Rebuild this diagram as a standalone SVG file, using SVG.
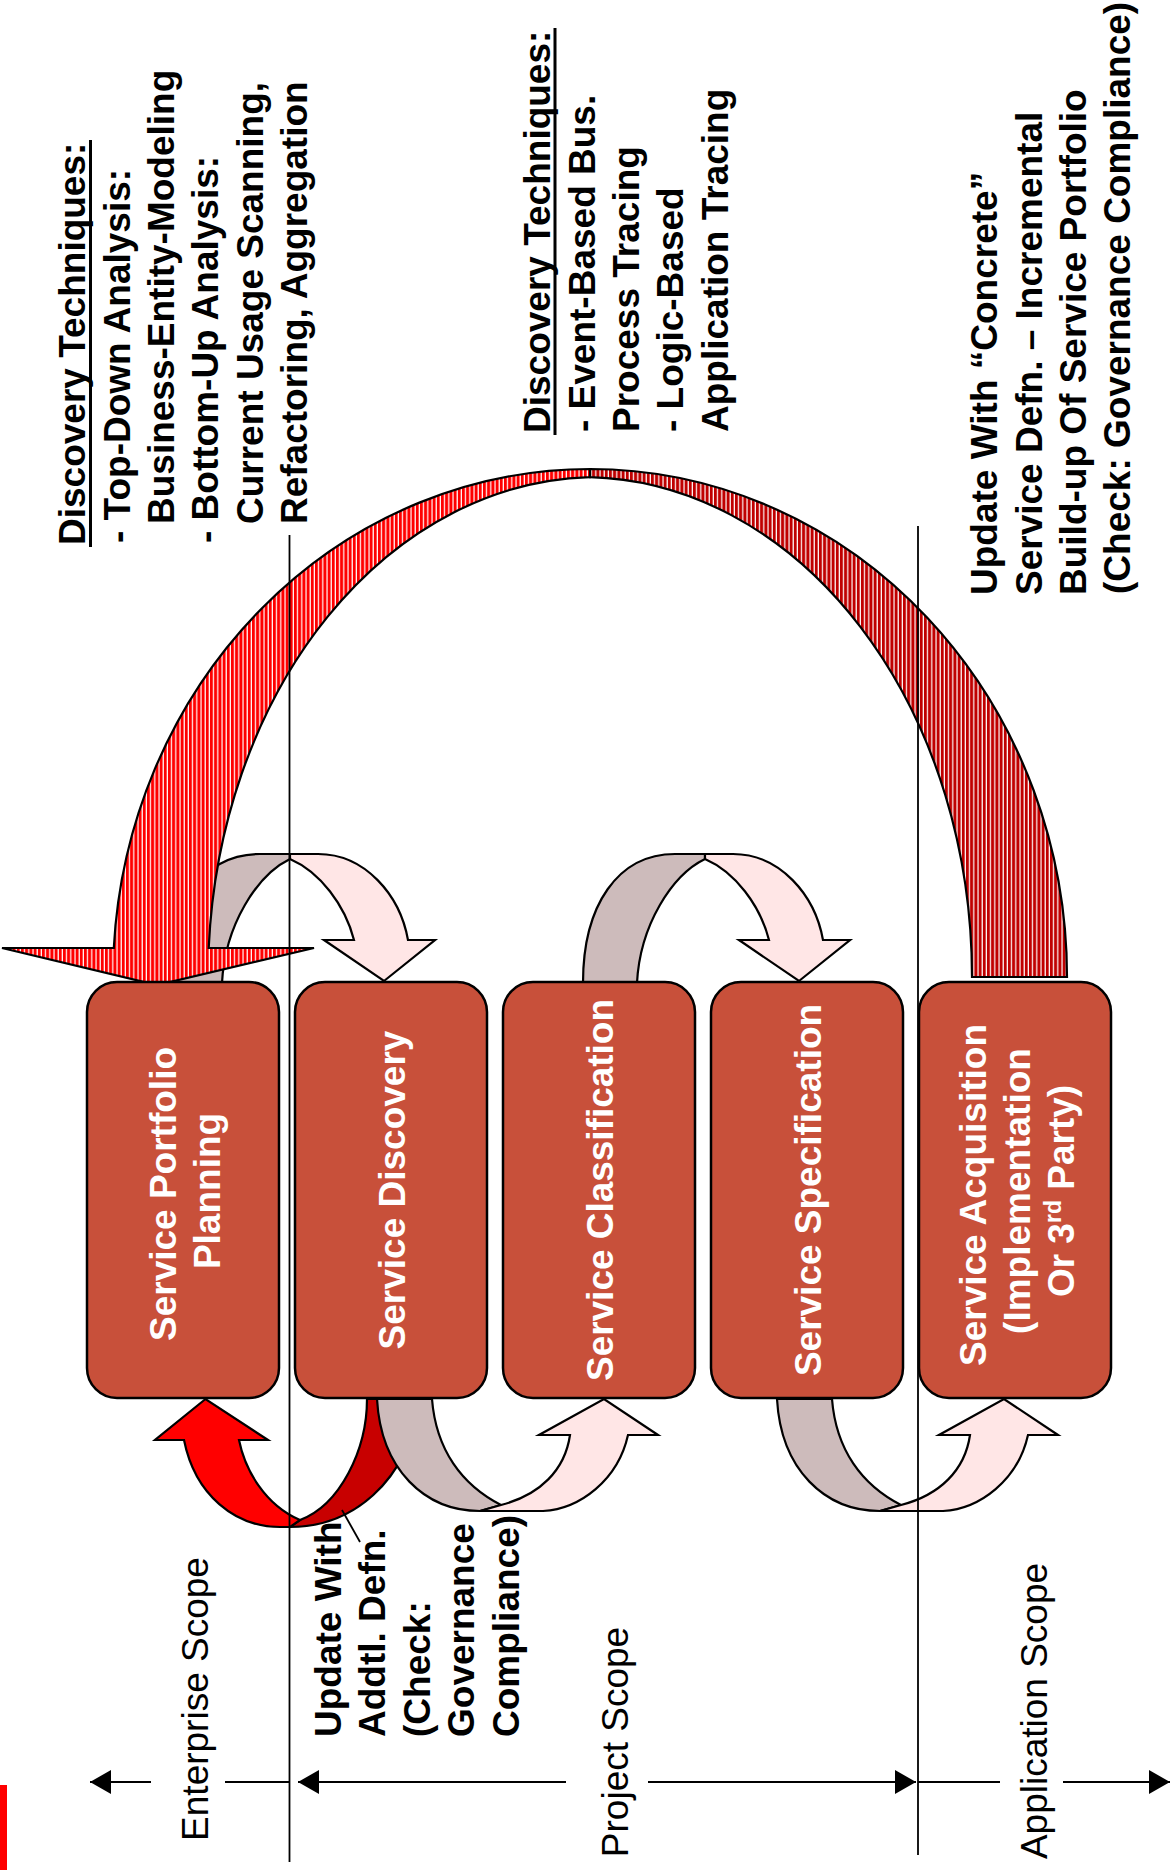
<svg xmlns="http://www.w3.org/2000/svg" width="1170" height="1870" viewBox="0 0 1170 1870">
<style>
.box{fill:#C8503A;stroke:#000;stroke-width:2.5}
.bt{font-family:"Liberation Sans",Arial,sans-serif;font-size:37px;font-weight:bold;fill:#fff}
.lb{font-family:"Liberation Sans",Arial,sans-serif;font-size:37px;font-weight:bold;fill:#000}
.sc{font-family:"Liberation Sans",Arial,sans-serif;font-size:37px;fill:#000}
.ol{stroke:#000;stroke-width:2.2;stroke-linejoin:miter}
.grey{fill:#CDBBBB}
.pink{fill:#FFE6E6}
.sl{stroke:#000;stroke-width:1.8;fill:none}
.ul{stroke:#000;stroke-width:3}
</style>
<defs>
<pattern id="stripeR" patternUnits="userSpaceOnUse" width="4.2" height="10">
<rect width="4.2" height="10" fill="#FF0000"/><rect x="3" width="1.2" height="10" fill="#FFFFFF"/>
</pattern>
<pattern id="stripeD" patternUnits="userSpaceOnUse" width="4.2" height="10">
<rect width="4.2" height="10" fill="#C00000"/><rect x="3" width="1.2" height="10" fill="#FFFFFF"/>
</pattern>
<marker id="ah" viewBox="0 0 21 24" refX="21" refY="12" markerWidth="21" markerHeight="24" markerUnits="userSpaceOnUse" orient="auto">
<path d="M0,0 L21,12 L0,24 Z" fill="#000"/>
</marker>
</defs>
<rect width="1170" height="1870" fill="#fff"/>
<rect x="0" y="1785" width="7" height="85" fill="#FF0000"/>

<g id="connectors">
  <!-- lower red U-arrow: Discovery -> Portfolio Planning -->
  <path class="ol" fill="#C80000" d="M290,1527 C350,1527 408,1485 420,1399 L367,1399 C367,1450 340,1505 300,1520 Z"/>
  <!-- lower arrow Discovery -> Classification -->
  <path class="ol grey" d="M377,1399 C381,1470 425,1511 480,1511 L501,1505 C462,1485 436,1450 432,1399 Z"/>
  <path class="ol pink" d="M480,1511 L543,1511 C580,1509 618,1480 628,1435 L658,1435 L604,1399 L539,1435 L570,1435 C565,1470 540,1495 501,1505 Z"/>
  <path class="ol" fill="#FF0000" d="M184,1440 C195,1495 235,1527 280,1527 L290,1527 L300,1520 C265,1505 245,1470 239,1440 L268,1440 L205.5,1399 L155,1440 Z"/>
  <!-- lower arrow Specification -> Acquisition -->
  <path class="ol grey" d="M777,1399 C781,1470 825,1511 880,1511 L901,1505 C862,1485 836,1450 832,1399 Z"/>
  <path class="ol pink" d="M880,1511 L943,1511 C980,1509 1018,1480 1028,1435 L1058,1435 L1004,1399 L939,1435 L970,1435 C965,1470 940,1495 901,1505 Z"/>
  <!-- upper arrow Portfolio -> Discovery -->
  <path class="ol grey" d="M168,983 C168,905 203,854 260,854 L290,854 L290,859 C257,875 225,925 222,983 Z"/>
  <path class="ol pink" d="M290,854 L318,854 C365,854 400,895 408,940 L435,940 L384,981 L324,940 L354,940 C345,905 320,872 290,859 Z"/>
  <!-- upper arrow Classification -> Specification -->
  <path class="ol grey" d="M583,983 C583,905 618,854 675,854 L705,854 L705,859 C672,875 640,925 637,983 Z"/>
  <path class="ol pink" d="M705,854 L733,854 C780,854 815,895 823,940 L850,940 L799,981 L739,940 L769,940 C760,905 735,872 705,859 Z"/>
  <!-- big striped arrow Acquisition -> Portfolio -->
  <path class="ol" fill="url(#stripeD)" d="M590,469 A477,508 0 0 1 1067,977 L972,977 A390,500 0 0 0 590,477.1 Z"/>
  <path class="ol" fill="url(#stripeR)" d="M208.7,948 L314,948 L157,985 L2,948 L113.8,948 A477,508 0 0 1 590,469 L590,477.1 A390,500 0 0 0 208.7,948 Z"/>
  <!-- callout leader -->
  <line class="sl" x1="342" y1="1510" x2="360" y2="1542"/>
</g>

<g id="scope">
  <line class="sl" x1="289.5" y1="535" x2="289.5" y2="1862"/>
  <line class="sl" x1="918" y1="526" x2="918" y2="1855"/>
  <line class="sl" x1="151" y1="1782" x2="90" y2="1782" marker-end="url(#ah)"/>
  <line class="sl" x1="225" y1="1782" x2="290" y2="1782"/>
  <line class="sl" x1="566" y1="1782" x2="298" y2="1782" marker-end="url(#ah)"/>
  <line class="sl" x1="648" y1="1782" x2="916" y2="1782" marker-end="url(#ah)"/>
  <line class="sl" x1="918" y1="1782" x2="1000" y2="1782"/>
  <line class="sl" x1="1063" y1="1782" x2="1170" y2="1782" marker-end="url(#ah)"/>
  <text class="sc" text-anchor="middle" transform="translate(208,1699) rotate(-90)">Enterprise Scope</text>
  <text class="sc" text-anchor="middle" transform="translate(628,1742) rotate(-90)">Project Scope</text>
  <text class="sc" text-anchor="middle" transform="translate(1047,1711) rotate(-90)">Application Scope</text>
</g>

<g id="n1">
  <rect class="box" x="87" y="982" width="192" height="416" rx="30"/>
  <text class="bt" text-anchor="middle" transform="translate(175.5,1194) rotate(-90)">Service Portfolio</text>
  <text class="bt" text-anchor="middle" transform="translate(219.5,1191) rotate(-90)">Planning</text>
</g>
<g id="n2">
  <rect class="box" x="295" y="982" width="192" height="416" rx="30"/>
  <text class="bt" text-anchor="middle" transform="translate(404.5,1190) rotate(-90)">Service Discovery</text>
</g>
<g id="n3">
  <rect class="box" x="503" y="982" width="192" height="416" rx="30"/>
  <text class="bt" text-anchor="middle" textLength="382" lengthAdjust="spacingAndGlyphs" transform="translate(612.5,1190) rotate(-90)">Service Classification</text>
</g>
<g id="n4">
  <rect class="box" x="711" y="982" width="192" height="416" rx="30"/>
  <text class="bt" text-anchor="middle" transform="translate(820.5,1190) rotate(-90)">Service Specification</text>
</g>
<g id="n5">
  <rect class="box" x="919" y="982" width="192" height="416" rx="30"/>
  <text class="bt" text-anchor="middle" transform="translate(986,1195) rotate(-90)">Service Acquisition</text>
  <text class="bt" text-anchor="middle" transform="translate(1030,1191) rotate(-90)">(Implementation</text>
  <text class="bt" text-anchor="middle" transform="translate(1074,1191) rotate(-90)">Or 3<tspan font-size="23" dy="-13">rd</tspan><tspan dy="13"> Party)</tspan></text>
</g>

<g id="note-discovery-techniques-1">
  <text class="lb" transform="translate(84.5,545) rotate(-90)">Discovery Techniques:</text>
  <line class="ul" x1="90.5" y1="547" x2="90.5" y2="140"/>
  <text class="lb" transform="translate(129.5,543) rotate(-90)">- Top-Down Analysis:</text>
  <text class="lb" transform="translate(174,524) rotate(-90)">Business-Entity-Modeling</text>
  <text class="lb" transform="translate(218,543) rotate(-90)">- Bottom-Up Analysis:</text>
  <text class="lb" transform="translate(262.5,524) rotate(-90)">Current Usage Scanning,</text>
  <text class="lb" transform="translate(307,524) rotate(-90)">Refactoring, Aggregation</text>
</g>

<g id="note-discovery-techniques-2">
  <text class="lb" transform="translate(550,433) rotate(-90)">Discovery Techniques:</text>
  <line class="ul" x1="555" y1="435" x2="555" y2="28"/>
  <text class="lb" transform="translate(595,432) rotate(-90)">- Event-Based Bus.</text>
  <text class="lb" transform="translate(639,432) rotate(-90)">Process Tracing</text>
  <text class="lb" transform="translate(683,432) rotate(-90)">- Logic-Based</text>
  <text class="lb" transform="translate(727.5,432) rotate(-90)">Application Tracing</text>
</g>

<g id="note-concrete">
  <text class="lb" transform="translate(997,595) rotate(-90)">Update With “Concrete”</text>
  <text class="lb" transform="translate(1041.5,595) rotate(-90)">Service Defn. – Incremental</text>
  <text class="lb" transform="translate(1086,595) rotate(-90)">Build-up Of Service Portfolio</text>
  <text class="lb" transform="translate(1130,594) rotate(-90)">(Check:  Governance Compliance)</text>
</g>

<g id="note-addtl">
  <text class="lb" transform="translate(340.5,1737) rotate(-90)">Update With</text>
  <text class="lb" transform="translate(385,1737) rotate(-90)">Addtl. Defn.</text>
  <text class="lb" transform="translate(429.5,1737) rotate(-90)">(Check:</text>
  <text class="lb" transform="translate(474,1737) rotate(-90)">Governance</text>
  <text class="lb" transform="translate(518.5,1737) rotate(-90)">Compliance)</text>
</g>
</svg>
